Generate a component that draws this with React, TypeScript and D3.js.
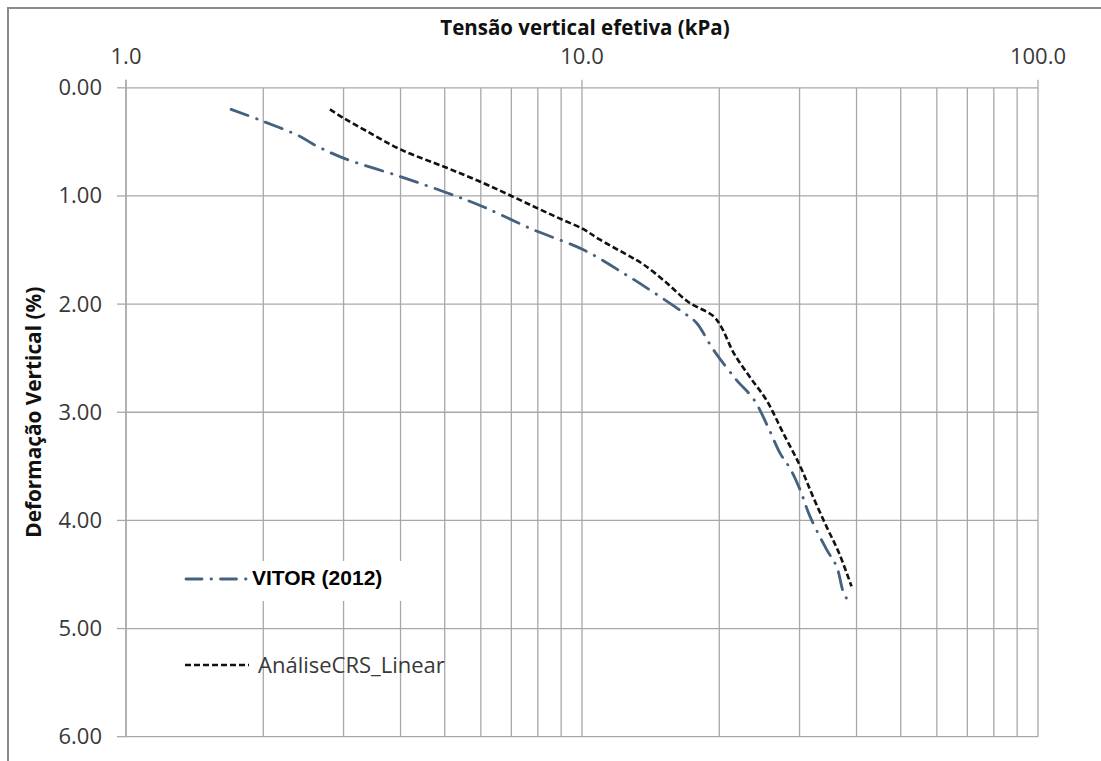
import React from "react";
import * as d3 from "d3";

// ---- data ----
const vitorX = [1.7, 2.0, 2.41, 2.57, 3.0, 3.99, 5.05, 6.07, 7.8, 10.1, 12.5, 14.1, 16.7, 17.8, 19.4, 21.8, 23.8, 25.6, 27.2, 28.6, 30.1, 31.6, 34.4, 36.2, 37.4, 38.4];
const vitorY = [0.2, 0.31, 0.45, 0.52, 0.65, 0.82, 0.97, 1.1, 1.31, 1.5, 1.73, 1.87, 2.08, 2.17, 2.42, 2.7, 2.88, 3.14, 3.38, 3.52, 3.72, 3.96, 4.27, 4.43, 4.66, 4.75];
const crsX = [2.8, 3.0, 3.37, 4.0, 5.05, 6.07, 7.0, 7.95, 8.95, 10.1, 10.9, 12.5, 13.6, 15.3, 17.1, 19.4, 20.2, 21.5, 23.3, 25.4, 27.6, 30.1, 32.1, 34.4, 36.6, 39.0];
const crsY = [0.2, 0.28, 0.4, 0.57, 0.74, 0.88, 1.0, 1.11, 1.21, 1.31, 1.4, 1.54, 1.63, 1.8, 1.98, 2.11, 2.21, 2.45, 2.67, 2.89, 3.19, 3.5, 3.78, 4.06, 4.3, 4.61];
const xMajorTicks = [1, 10, 100];
const xTickLabels = ["1.0", "10.0", "100.0"];
const yTicks = [0, 1, 2, 3, 4, 5, 6];
const yTickLabels = ["0.00", "1.00", "2.00", "3.00", "4.00", "5.00", "6.00"];
const seriesNames = ["VITOR (2012)", "AnáliseCRS_Linear"];
const xTitle = "Tensão vertical efetiva (kPa)";
const yTitle = "Deformação Vertical (%)";

const W = 1101;
const H = 761;
const left = 126;
const right = 1038;
const top = 87.8;
const bottom = 736.7;

export default function App() {
  const x = d3.scaleLog().domain([1, 100]).range([left, right]);
  const y = d3.scaleLinear().domain([0, 6]).range([top, bottom]);
  const minor: number[] = [];
  for (const dec of [1, 10]) for (let k = 2; k <= 9; k++) minor.push(dec * k);
  const line = d3
    .line<[number, number]>()
    .x((d) => x(d[0]))
    .y((d) => y(d[1]))
    .curve(d3.curveCatmullRom.alpha(0.5));
  const vitor = vitorX.map((v, i) => [v, vitorY[i]] as [number, number]);
  const crs = crsX.map((v, i) => [v, crsY[i]] as [number, number]);
  const grid = "#a8a8a8";
  const font = "'Open Sans', sans-serif";
  const txt = "#383838";
  return (
    <svg
      width={W}
      height={H}
      style={{ position: "absolute", left: 0, top: 0, display: "block", background: "#fff" }}
    >
      <rect x={0} y={0} width={W} height={H} fill="#fff" />
      <rect x={8} y={8} width={1300} height={1000} fill="none" stroke="#8a8a8a" strokeWidth={2} />
      {/* vertical grid */}
      {[...xMajorTicks, ...minor].map((t) => (
        <line key={"vx" + t} x1={x(t)} x2={x(t)} y1={top} y2={bottom} stroke={grid} strokeWidth={1.3} />
      ))}
      {/* horizontal grid */}
      {yTicks.map((t) => (
        <line key={"hy" + t} x1={left} x2={right} y1={y(t)} y2={y(t)} stroke={grid} strokeWidth={1.3} />
      ))}
      {/* axis line + ticks */}
      <line x1={left} x2={left} y1={top - 8} y2={bottom} stroke={grid} strokeWidth={1.3} />
      {yTicks.map((t) => (
        <line key={"ty" + t} x1={left - 9} x2={left} y1={y(t)} y2={y(t)} stroke={grid} strokeWidth={1.3} />
      ))}
      {xMajorTicks.map((t) => (
        <line key={"tx" + t} x1={x(t)} x2={x(t)} y1={top - 8} y2={top} stroke={grid} strokeWidth={1.3} />
      ))}
      {/* tick labels */}
      {xMajorTicks.map((t, i) => (
        <text key={"lx" + t} x={x(t)} y={64} textAnchor="middle" fontFamily={font} fontSize={22} fill={txt}>
          {xTickLabels[i]}
        </text>
      ))}
      {yTicks.map((t, i) => (
        <text key={"ly" + t} x={102} y={y(t) + 7.5} textAnchor="end" fontFamily={font} fontSize={22} fill={txt}>
          {yTickLabels[i]}
        </text>
      ))}
      {/* titles */}
      <text x={585} y={35} textAnchor="middle" fontFamily={font} fontWeight="bold" fontSize={20.5} fill="#111">
        {xTitle}
      </text>
      <text
        transform={`translate(41, ${(top + bottom) / 2}) rotate(-90)`}
        textAnchor="middle"
        fontFamily={font}
        fontWeight="bold"
        fontSize={20.8}
        fill="#111"
      >
        {yTitle}
      </text>
      {/* series */}
      <path
        d={line(vitor) || ""}
        fill="none"
        stroke="#44627f"
        strokeWidth={2.8}
        strokeDasharray="18,9,0.5,9"
        strokeLinecap="round"
      />
      <path d={line(crs) || ""} fill="none" stroke="#111" strokeWidth={2.6} strokeDasharray="6,3" />
      {/* legend */}
      <rect x={178} y={561} width={236} height={40} fill="#fff" />
      <line x1={186} x2={249} y1={579} y2={579} stroke="#44627f" strokeWidth={2.8} strokeDasharray="16,9,0.5,9" strokeLinecap="round" />
      <text x={252} y={585} fontFamily="'Liberation Sans', Arial, sans-serif" fontWeight="bold" fontSize={21} fill="#000">
        {seriesNames[0]}
      </text>
      <line x1={185} x2={249} y1={665} y2={665} stroke="#111" strokeWidth={2.6} strokeDasharray="6,3" />
      <text x={258} y={672.5} fontFamily={font} fontSize={22} fill={txt}>
        {seriesNames[1]}
      </text>
    </svg>
  );
}
